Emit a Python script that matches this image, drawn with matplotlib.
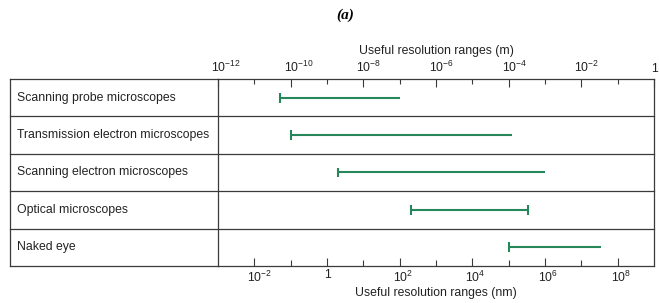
import matplotlib
matplotlib.use("Agg")
import matplotlib.pyplot as plt
from matplotlib.ticker import NullFormatter
from matplotlib.transforms import ScaledTranslation

plt.rcParams['font.family'] = ['Liberation Sans', 'DejaVu Sans']
plt.rcParams['mathtext.fontset'] = 'custom'
plt.rcParams['mathtext.rm'] = 'Liberation Sans'
plt.rcParams['mathtext.it'] = 'Liberation Sans:italic'
plt.rcParams['mathtext.bf'] = 'Liberation Sans:bold'

# instruments and their useful resolution ranges, in metres
instruments = ["Scanning probe microscopes",
               "Transmission electron microscopes",
               "Scanning electron microscopes",
               "Optical microscopes",
               "Naked eye"]
range_low = [5e-11, 1e-10, 2e-9, 2e-7, 1e-4]
range_high = [1e-7, 1.2e-4, 1e-3, 3.5e-4, 3.5e-2]
cap_right = [False, False, False, True, False]

# axis ticks (exponents)
m_major = [-12, -10, -8, -6, -4, -2, 0]
m_minor = [-11, -9, -7, -5, -3, -1]
nm_major = [-2, 0, 2, 4, 6, 8]
nm_minor = [-1, 1, 3, 5, 7]

green = '#25875a'
line_col = '#3a3a3a'
fs = 8.8


def fmt(e):
    return '1' if e == 0 else r'$10^{%d}$' % e


fig = plt.figure(figsize=(6.59, 3.03), dpi=100)
ax = fig.add_axes([218 / 659, 1 - 266 / 303, 436 / 659, 187 / 303])
ax.set_xscale('log')
ax.set_xlim(1e-12, 1)
ax.set_ylim(len(instruments) - 0.5, -0.5)
ax.set_yticks([])

for s in ax.spines.values():
    s.set_color(line_col)
    s.set_linewidth(0.9)

# bars
for i in range(len(instruments)):
    ax.hlines(i, range_low[i], range_high[i], color=green, lw=1.5)
    ax.vlines(range_low[i], i - 0.13, i + 0.13, color=green, lw=1.5)
    if cap_right[i]:
        ax.vlines(range_high[i], i - 0.13, i + 0.13, color=green, lw=1.5)

# table part on the left
xl = -208 / 436
for i in range(len(instruments) - 1):
    ax.axhline(i + 0.5, xmin=xl, xmax=1, color=line_col, lw=0.9, clip_on=False)
ax.axhline(-0.5, xmin=xl, xmax=0, color=line_col, lw=0.9, clip_on=False)
ax.axhline(len(instruments) - 0.5, xmin=xl, xmax=0, color=line_col, lw=0.9, clip_on=False)
ax.plot([xl, xl], [0, 1], transform=ax.transAxes, color=line_col, lw=0.9, clip_on=False)
for i, name in enumerate(instruments):
    ax.text(-201 / 436, i, name, transform=ax.get_yaxis_transform(),
            ha='left', va='center', fontsize=fs, color='#222222')

# top axis in metres
ax.xaxis.tick_top()
ax.set_xticks([10.0 ** e for e in m_major], labels=[fmt(e) for e in m_major])
ax.set_xticks([10.0 ** e for e in m_minor], minor=True)
ax.xaxis.set_minor_formatter(NullFormatter())
ax.xaxis.set_tick_params(which='major', direction='in', length=5.5, width=0.8,
                         color=line_col, pad=3, labelsize=fs, labelcolor='#222222')
ax.xaxis.set_tick_params(which='minor', direction='in', length=3.8, width=0.8,
                         color=line_col)
ax.set_xlabel('Useful resolution ranges (m)', fontsize=fs, color='#222222', labelpad=4)
ax.xaxis.set_label_position('top')

# bottom axis in nanometres
sec = ax.secondary_xaxis('bottom', functions=(lambda m: m * 1e9, lambda n: n / 1e9))
sec.set_xticks([10.0 ** e for e in nm_major], labels=[fmt(e) for e in nm_major])
sec.set_xticks([10.0 ** e for e in nm_minor], minor=True)
sec.xaxis.set_minor_formatter(NullFormatter())
sec.xaxis.set_tick_params(which='major', direction='in', length=6, width=0.8,
                          color=line_col, pad=2.5, labelsize=fs, labelcolor='#222222')
sec.xaxis.set_tick_params(which='minor', direction='in', length=4, width=0.8,
                          color=line_col)
sec.spines['bottom'].set_visible(False)
sec.set_xlabel('Useful resolution ranges (nm)', fontsize=fs, color='#222222', labelpad=2)

# centre the "10" of each label on its tick
for axis in (ax.xaxis, sec.xaxis):
    for lab in axis.get_majorticklabels():
        dx = 2.2 if lab.get_text() == '1' else 5.0
        lab.set_horizontalalignment('left')
        lab.set_transform(lab.get_transform() + ScaledTranslation(-dx / 72, 0, fig.dpi_scale_trans))

fig.text(345 / 659, 1 - 15 / 303, '(a)', ha='center', va='center', fontsize=11,
         family='Liberation Serif', weight='bold', style='italic')

fig.savefig('out.png', dpi=100)
